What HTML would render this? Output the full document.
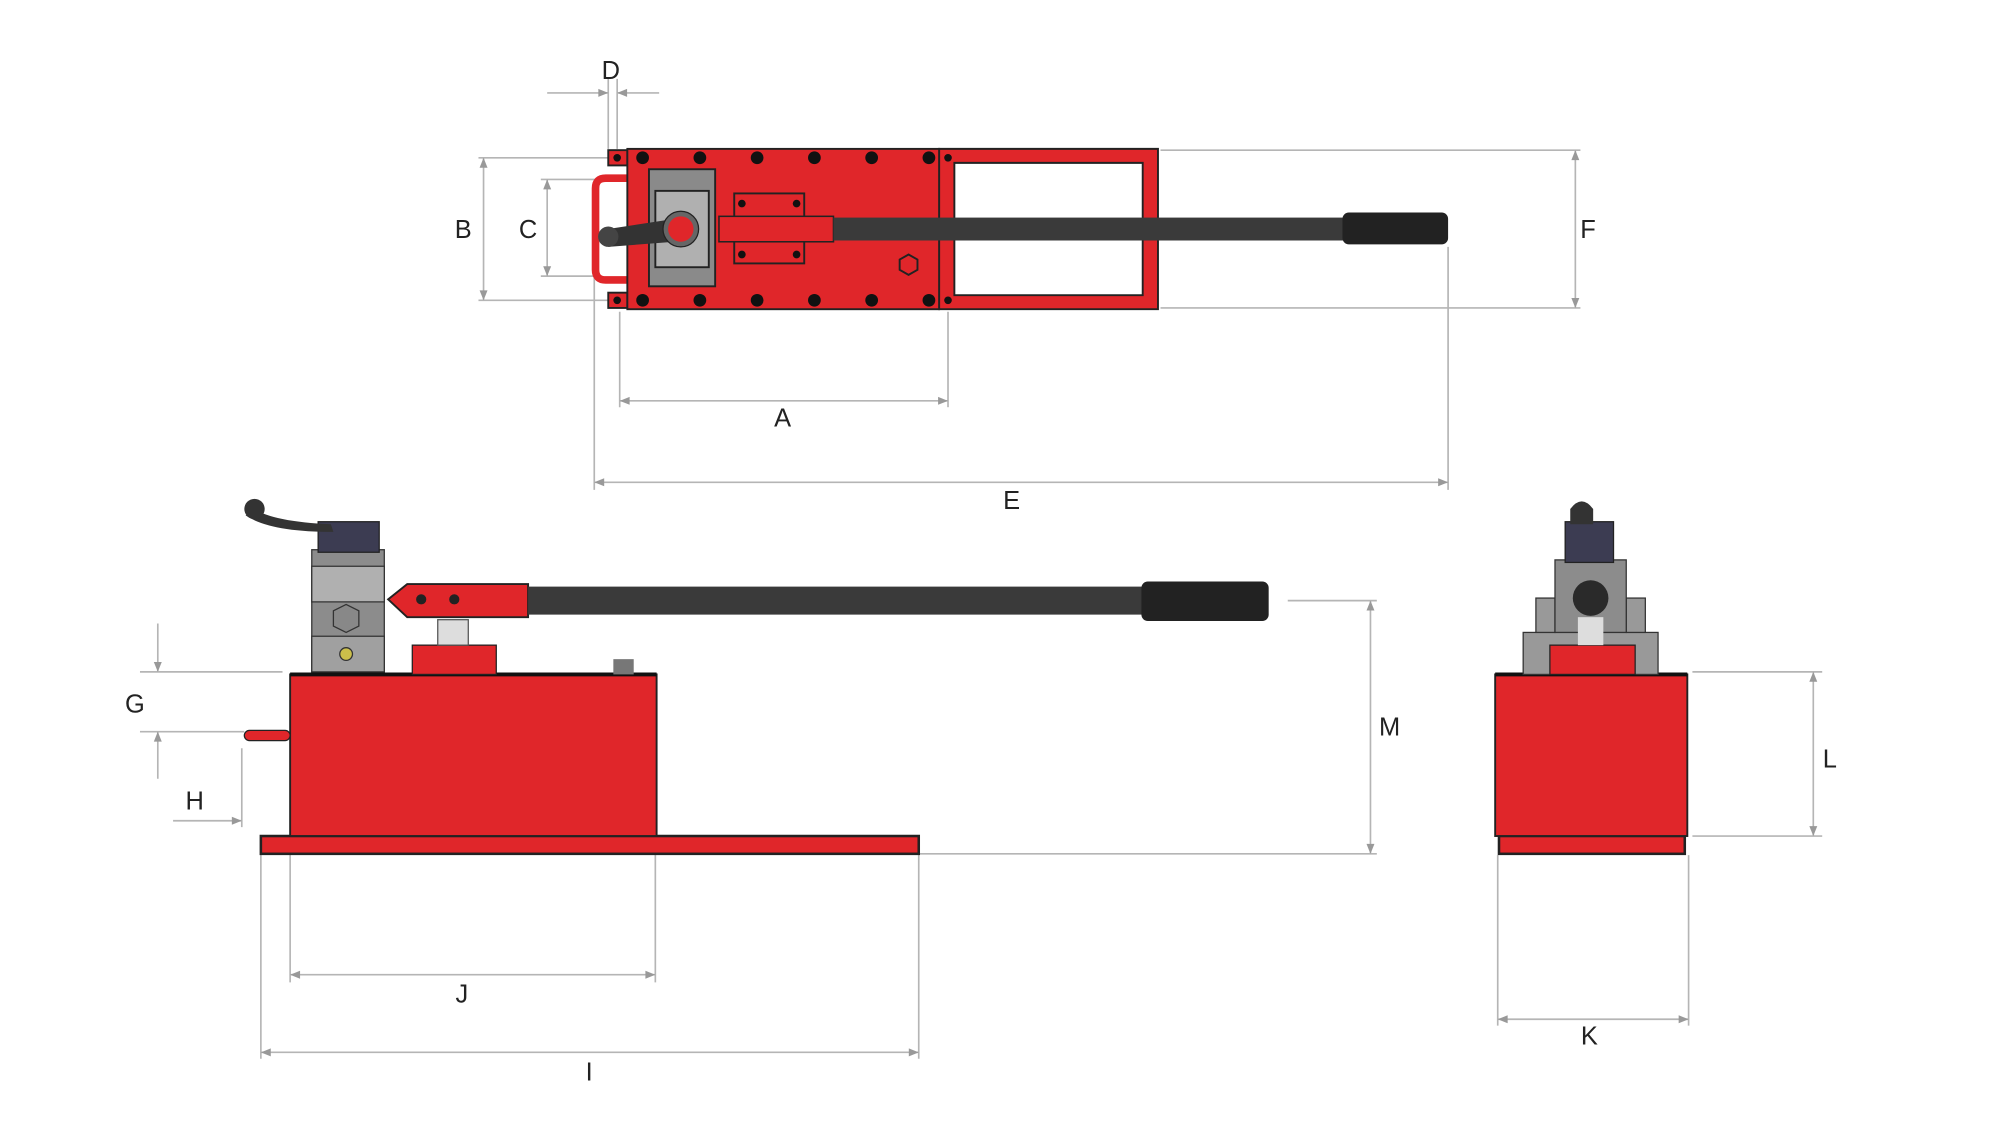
<!DOCTYPE html>
<html><head><style>html,body{margin:0;padding:0;background:#fff}svg{display:block}</style></head>
<body>
<svg width="1994" height="1132" viewBox="0 0 1567 889.6" xmlns="http://www.w3.org/2000/svg" font-family="Liberation Sans, sans-serif" font-size="20" fill="#222">
<defs>
<marker id="a" viewBox="0 0 10 10" refX="10" refY="5" markerWidth="8" markerHeight="6" orient="auto-start-reverse"><path d="M0,1 L10,5 L0,9 z" fill="#999"/></marker>
</defs>
<rect width="1600" height="900" fill="#fff"/>
<g stroke="#b5b5b5" stroke-width="1.3" fill="none">
<line x1="478" y1="62" x2="478" y2="117"/><line x1="485" y1="62" x2="485" y2="117"/>
<line x1="430" y1="73" x2="478" y2="73" marker-end="url(#a)"/><line x1="518" y1="73" x2="485" y2="73" marker-end="url(#a)"/>
<line x1="376" y1="124" x2="490" y2="124"/><line x1="376" y1="236" x2="490" y2="236"/>
<line x1="380" y1="124" x2="380" y2="236" marker-start="url(#a)" marker-end="url(#a)"/>
<line x1="425" y1="141" x2="472" y2="141"/><line x1="425" y1="217" x2="472" y2="217"/>
<line x1="430" y1="141" x2="430" y2="217" marker-start="url(#a)" marker-end="url(#a)"/>
<line x1="912" y1="118" x2="1242" y2="118"/><line x1="912" y1="242" x2="1242" y2="242"/>
<line x1="1238" y1="118" x2="1238" y2="242" marker-start="url(#a)" marker-end="url(#a)"/>
<line x1="487" y1="245" x2="487" y2="320"/><line x1="745" y1="245" x2="745" y2="320"/>
<line x1="487" y1="315" x2="745" y2="315" marker-start="url(#a)" marker-end="url(#a)"/>
<line x1="467" y1="195" x2="467" y2="385"/><line x1="1138" y1="194" x2="1138" y2="385"/>
<line x1="467" y1="379" x2="1138" y2="379" marker-start="url(#a)" marker-end="url(#a)"/>
<line x1="110" y1="528" x2="222" y2="528"/><line x1="110" y1="575" x2="192" y2="575"/>
<line x1="124" y1="490" x2="124" y2="528" marker-end="url(#a)"/><line x1="124" y1="612" x2="124" y2="575" marker-end="url(#a)"/>
<line x1="190" y1="588" x2="190" y2="650"/>
<line x1="136" y1="645" x2="190" y2="645" marker-end="url(#a)"/><line x1="264" y1="645" x2="228" y2="645" marker-end="url(#a)"/>
<line x1="1012" y1="472" x2="1082" y2="472"/><line x1="722" y1="671" x2="1082" y2="671"/>
<line x1="1077" y1="472" x2="1077" y2="671" marker-start="url(#a)" marker-end="url(#a)"/>
<line x1="228" y1="671" x2="228" y2="772"/><line x1="515" y1="671" x2="515" y2="772"/>
<line x1="228" y1="766" x2="515" y2="766" marker-start="url(#a)" marker-end="url(#a)"/>
<line x1="205" y1="671" x2="205" y2="832"/><line x1="722" y1="671" x2="722" y2="832"/>
<line x1="205" y1="827" x2="722" y2="827" marker-start="url(#a)" marker-end="url(#a)"/>
<line x1="1330" y1="528" x2="1432" y2="528"/><line x1="1330" y1="657" x2="1432" y2="657"/>
<line x1="1425" y1="528" x2="1425" y2="657" marker-start="url(#a)" marker-end="url(#a)"/>
<line x1="1177" y1="672" x2="1177" y2="806"/><line x1="1327" y1="672" x2="1327" y2="806"/>
<line x1="1177" y1="801" x2="1327" y2="801" marker-start="url(#a)" marker-end="url(#a)"/>
</g>
<g text-anchor="middle">
<text x="480" y="62">D</text><text x="364" y="187">B</text><text x="415" y="187">C</text>
<text x="1248" y="187">F</text><text x="615" y="335">A</text><text x="795" y="400">E</text>
<text x="106" y="560">G</text><text x="153" y="636">H</text><text x="1092" y="578">M</text>
<text x="363" y="788">J</text><text x="463" y="849">I</text><text x="1438" y="603">L</text><text x="1249" y="821">K</text>
</g>

<g stroke="#222" stroke-width="1.5">
<path d="M738,117 H910 V243 H738 Z M750,128 V232 H898 V128 Z" fill="#e0262a" fill-rule="evenodd"/>
<rect x="478" y="118" width="15" height="12" fill="#e0262a"/>
<rect x="478" y="230" width="15" height="12" fill="#e0262a"/>
<path d="M493,140 H476 Q468,140 468,148 V212 Q468,220 476,220 H493" fill="none" stroke="#e0262a" stroke-width="6"/>
<rect x="493" y="117" width="245" height="126" fill="#e0262a"/>
<rect x="510" y="133" width="52" height="92" fill="#8a8a8a"/>
<rect x="515" y="150" width="42" height="60" fill="#b0b0b0"/>
<rect x="577" y="152" width="55" height="55" fill="none"/>
</g>
<g fill="#111">
<circle cx="485" cy="124" r="3"/><circle cx="485" cy="236" r="3"/>
<circle cx="505" cy="124" r="5"/><circle cx="550" cy="124" r="5"/><circle cx="595" cy="124" r="5"/><circle cx="640" cy="124" r="5"/><circle cx="685" cy="124" r="5"/><circle cx="730" cy="124" r="5"/>
<circle cx="505" cy="236" r="5"/><circle cx="550" cy="236" r="5"/><circle cx="595" cy="236" r="5"/><circle cx="640" cy="236" r="5"/><circle cx="685" cy="236" r="5"/><circle cx="730" cy="236" r="5"/>
<circle cx="745" cy="124" r="3"/><circle cx="745" cy="236" r="3"/>
<circle cx="583" cy="160" r="3"/><circle cx="626" cy="160" r="3"/><circle cx="583" cy="200" r="3"/><circle cx="626" cy="200" r="3"/>
</g>
<rect x="565" y="170" width="90" height="20" fill="#e0262a" stroke="#222" stroke-width="1.2"/>
<rect x="655" y="171" width="402" height="18" fill="#3a3a3a"/>
<rect x="1055" y="167" width="83" height="25" rx="5" fill="#222"/>
<path d="M478,180 L530,172 L530,190 L478,194 Z" fill="#333"/>
<circle cx="478" cy="186" r="8" fill="#444"/>
<circle cx="535" cy="180" r="14" fill="#666" stroke="#222"/>
<circle cx="535" cy="180" r="10" fill="#e0262a"/>
<polygon points="714,200 721,204 721,212 714,216 707,212 707,204" fill="#e0262a" stroke="#222" stroke-width="1.5"/>

<rect x="205" y="657" width="517" height="14" fill="#e0262a" stroke="#222" stroke-width="2"/>
<rect x="228" y="530" width="288" height="127" fill="#e0262a" stroke="#222" stroke-width="1.5"/>
<line x1="228" y1="530" x2="516" y2="530" stroke="#111" stroke-width="3"/>
<rect x="192" y="574" width="36" height="8" rx="4" fill="#e0262a" stroke="#222"/>
<rect x="324" y="507" width="66" height="23" fill="#e0262a" stroke="#222"/>
<rect x="344" y="487" width="24" height="20" fill="#ddd" stroke="#555"/>
<rect x="482" y="518" width="16" height="12" fill="#777"/>
<rect x="245" y="432" width="57" height="96" fill="#8c8c8c" stroke="#333"/>
<rect x="245" y="445" width="57" height="28" fill="#b0b0b0" stroke="#333"/>
<rect x="245" y="500" width="57" height="28" fill="#a0a0a0" stroke="#333"/>
<polygon points="272,475 282,480 282,492 272,497 262,492 262,480" fill="#888" stroke="#333"/>
<circle cx="272" cy="514" r="5" fill="#cbbf4a" stroke="#333"/>
<rect x="250" y="410" width="48" height="24" fill="#3c3c52" stroke="#222"/>
<path d="M200,400 Q215,410 260,412 L262,418 Q212,418 193,405 Z" fill="#333"/>
<circle cx="200" cy="400" r="8" fill="#333"/>
<path d="M305,471 L320,459 H415 V485 H320 Z" fill="#e0262a" stroke="#222" stroke-width="1.5"/>
<circle cx="331" cy="471" r="4" fill="#222"/><circle cx="357" cy="471" r="4" fill="#222"/>
<rect x="415" y="461" width="485" height="22" fill="#3a3a3a"/>
<rect x="897" y="457" width="100" height="31" rx="5" fill="#222"/>

<rect x="1178" y="657" width="146" height="14" fill="#e0262a" stroke="#222" stroke-width="2"/>
<rect x="1175" y="530" width="151" height="127" fill="#e0262a" stroke="#222" stroke-width="1.5"/>
<line x1="1175" y1="530" x2="1326" y2="530" stroke="#111" stroke-width="3"/>
<rect x="1197" y="497" width="106" height="33" fill="#999" stroke="#333"/>
<rect x="1218" y="507" width="67" height="23" fill="#e0262a" stroke="#222"/>
<rect x="1207" y="470" width="15" height="27" fill="#999" stroke="#333"/>
<rect x="1278" y="470" width="15" height="27" fill="#999" stroke="#333"/>
<rect x="1222" y="440" width="56" height="57" fill="#8c8c8c" stroke="#333"/>
<rect x="1240" y="485" width="20" height="22" fill="#ddd"/>
<circle cx="1250" cy="470" r="14" fill="#2a2a2a"/>
<rect x="1230" y="410" width="38" height="32" fill="#3c3c52" stroke="#222"/>
<path d="M1234,412 V400 Q1243,388 1252,400 V412 Z" fill="#333"/>
</svg>
</body></html>
